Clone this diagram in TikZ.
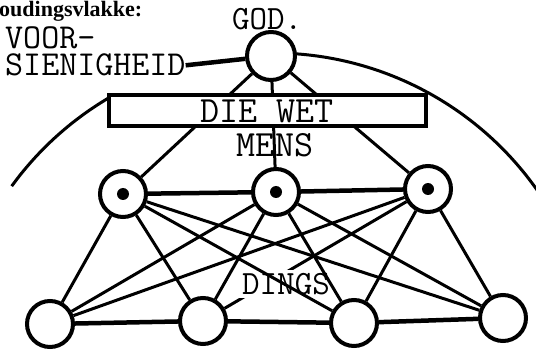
\documentclass[tikz,border=0pt]{standalone}
\usepackage{fontspec}
\newfontfamily\kopfont{Liberation Serif}

\begin{document}
\begin{tikzpicture}[x=1pt, y=1pt,
        knoop/.style={circle, draw, line width=4pt, fill=white, minimum size=46pt, inner sep=0pt},
        kolknoop/.style={knoop, path picture={\fill[black] (path picture bounding box.center) circle (6pt);}},
        skryf/.style={font=\ttfamily\fontsize{37}{39}\selectfont, inner sep=0pt},
        lyn/.style={line width=3pt},
        dik/.style={line width=4.5pt}]
        \useasboundingbox (0,0) rectangle (536,-350);
        % die boog
        \draw [lyn] (273,-376) ++(144:323) arc[start angle=144, end angle=120, radius=323];
        \draw [lyn] (273,-376) ++(88:323) arc[start angle=88, end angle=35, radius=323];
        % knope
        \node [knoop, minimum size=48pt] (god) at (271,-56) {};
        \node [kolknoop] (m1) at (123,-194) {};
        \node [kolknoop] (m2) at (276,-192) {};
        \node [kolknoop] (m3) at (428,-189) {};
        \node [knoop] (b1) at (50,-324) {};
        \node [knoop] (b2) at (203,-321) {};
        \node [knoop] (b3) at (354,-323) {};
        \node [knoop] (b4) at (503,-318) {};
        % teks bo
        \node [anchor=base west, inner sep=0pt, font=\kopfont\bfseries\fontsize{22}{24}\selectfont] (kop) at (-1,-17) {oudingsvlakke:};
        \node [skryf, anchor=base west, font=\ttfamily\fontsize{35}{37}\selectfont] (voor) at (5,-49) {VOOR-};
        \node [skryf, anchor=base west, font=\ttfamily\fontsize{35}{37}\selectfont] (sien) at (5,-76) {SIENIGHEID};
        \node [skryf, anchor=base west, font=\ttfamily\fontsize{34}{36}\selectfont] (godteks) at (232,-30) {GOD.};
        \draw [dik] (sien.east) -- (god);
        \draw [lyn] (god) -- (m1);
        \draw [lyn] (god) -- (m2);
        \draw [lyn] (god) -- (m3);
        \node [skryf, draw, fill=white, line width=4pt, minimum width=317pt, minimum height=31pt] (wet) at (267,-111) {DIE WET};
        \node [skryf] (mens) at (275,-145) {MENS};
        % dinge
        \draw [lyn] (m3) -- (b2);
        \node [skryf, font=\ttfamily\fontsize{34}{36}\selectfont, fill=white, inner sep=3pt] (dings) at (286,-284) {DINGS};
        \foreach \a/\b in {m1/b1,m1/b2,m1/b3,m1/b4,m2/b1,m2/b2,m2/b3,m2/b4,m3/b1,m3/b3,m3/b4}
            \draw [lyn] (\a) -- (\b);
        \draw [dik] (m1) -- (m2);
        \draw [dik] (m2) -- (m3);
        \draw [dik] (b1) -- (b2);
        \draw [dik] (b2) -- (b3);
        \draw [dik] (b3) -- (b4);
    \end{tikzpicture}
\end{document}
